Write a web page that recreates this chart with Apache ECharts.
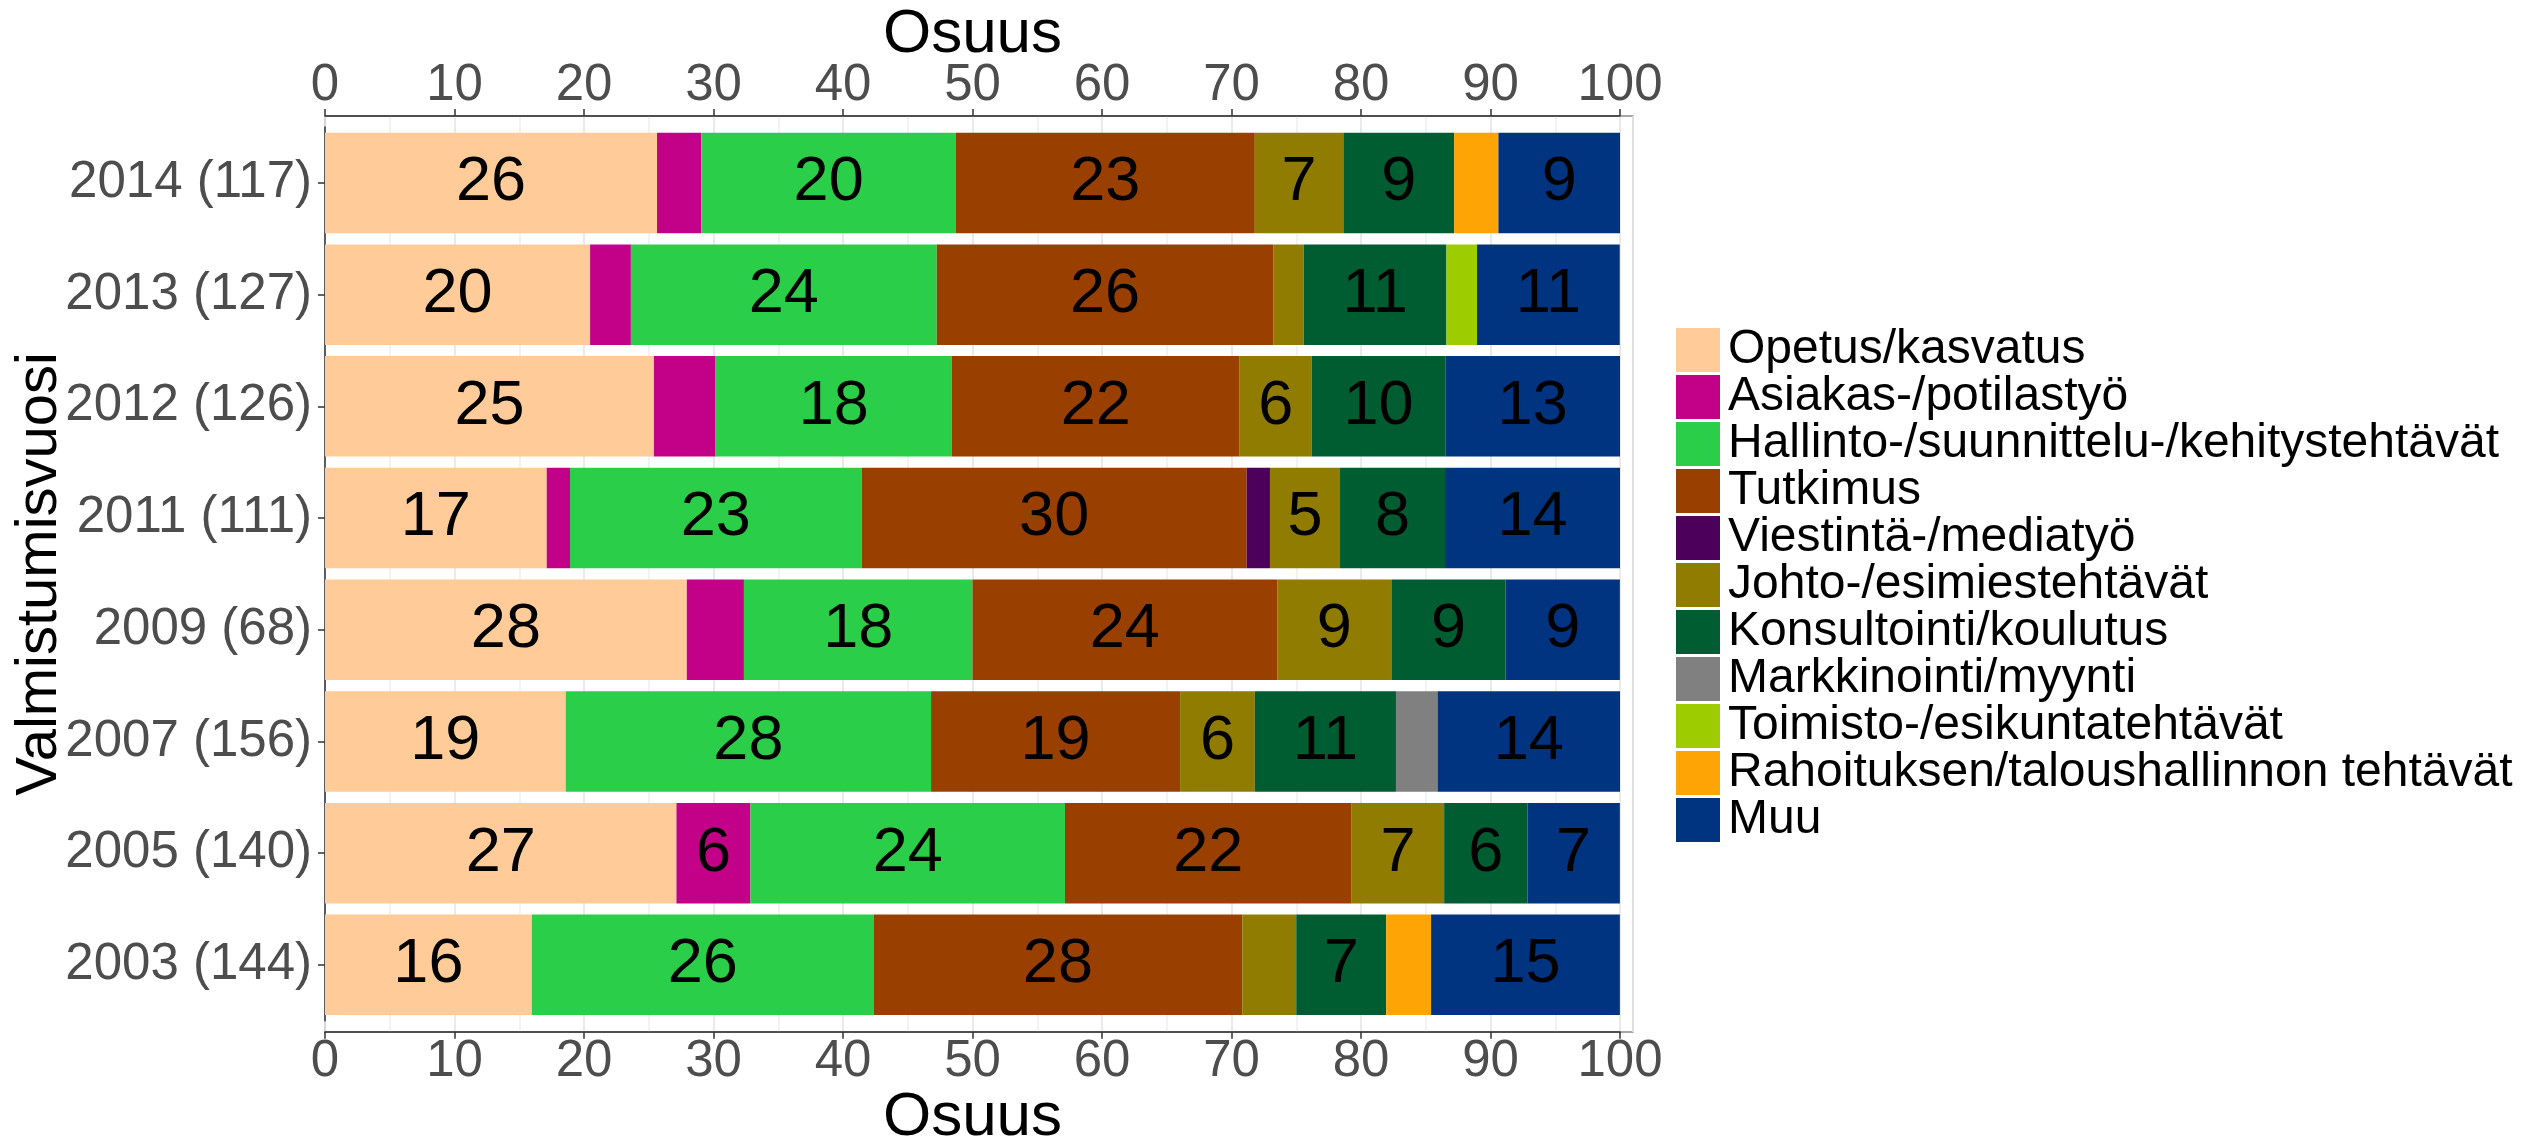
<!DOCTYPE html>
<html>
<head>
<meta charset="utf-8">
<script src="https://cdn.jsdelivr.net/npm/echarts@6/dist/echarts.min.js"></script>
<style>
html,body{margin:0;padding:0;background:#ffffff;}
#chart{width:2544px;height:1143px;}
</style>
</head>
<body>
<div id="chart"></div>
<script>
// ---- data (percent shares) ----
const years = ['2014 (117)', '2013 (127)', '2012 (126)', '2011 (111)', '2009 (68)', '2007 (156)', '2005 (140)', '2003 (144)'];
const categories = ['Opetus/kasvatus', 'Asiakas-/potilastyö', 'Hallinto-/suunnittelu-/kehitystehtävät', 'Tutkimus', 'Viestintä-/mediatyö', 'Johto-/esimiestehtävät', 'Konsultointi/koulutus', 'Markkinointi/myynti', 'Toimisto-/esikuntatehtävät', 'Rahoituksen/taloushallinnon tehtävät', 'Muu'];
const opetus       = [25.64, 20.47, 25.40, 17.12, 27.94, 18.59, 27.14, 15.97];
const asiakas      = [3.42, 3.15, 4.76, 1.80, 4.41, 0, 5.71, 0];
const hallinto     = [19.66, 23.62, 18.25, 22.52, 17.65, 28.21, 24.29, 26.39];
const tutkimus     = [23.08, 25.98, 22.22, 29.73, 23.53, 19.23, 22.14, 28.47];
const viestinta    = [0, 0, 0, 1.80, 0, 0, 0, 0];
const johto        = [6.84, 2.36, 5.56, 5.41, 8.82, 5.77, 7.14, 4.17];
const konsultointi = [8.55, 11.02, 10.32, 8.11, 8.82, 10.90, 6.43, 6.94];
const markkinointi = [0, 0, 0, 0, 0, 3.21, 0, 0];
const toimisto     = [0, 2.36, 0, 0, 0, 0, 0, 0];
const rahoitus     = [3.42, 0, 0, 0, 0, 0, 0, 3.47];
const muu          = [9.40, 11.02, 13.49, 13.51, 8.82, 14.10, 7.14, 14.58];
const xTickValues  = [0, 10, 20, 30, 40, 50, 60, 70, 80, 90, 100];
const labelThreshold = 5;

// ---- styling ----
const colors = ['#FFCC99', '#C20088', '#2BCE48', '#993F00', '#4C005C', '#8F7C00', '#005C31', '#808080', '#9DCC00', '#FFA405', '#003380'];
const FONT = "'Liberation Sans', Arial, Helvetica, sans-serif";
const seriesData = [opetus, asiakas, hallinto, tutkimus, viestinta, johto, konsultointi, markkinointi, toimisto, rahoitus, muu];

const xMin = xTickValues[0];
const xMax = xTickValues[xTickValues.length - 1];
const xInterval = xTickValues[1] - xTickValues[0];

function xAxisVisible(position, nameGap) {
  return {
    type: 'value', gridIndex: 0, position: position, offset: 11,
    min: xMin, max: xMax, interval: xInterval,
    axisLine: { show: true, lineStyle: { color: '#333333', width: 1.5 } },
    axisTick: { show: true, length: 7, lineStyle: { color: '#333333', width: 1.5 } },
    axisLabel: { fontSize: 51, color: '#4d4d4d', margin: 5, fontFamily: FONT },
    splitLine: { show: false },
    name: 'Osuus', nameLocation: 'middle', nameGap: nameGap, nameMoveOverlap: false,
    nameTextStyle: { fontSize: 62, color: '#000000', fontFamily: FONT }
  };
}

const option = {
  backgroundColor: '#ffffff',
  animation: false,
  textStyle: { fontFamily: FONT },
  grid: [
    { left: 325, top: 127.1, width: 1295, height: 893.6, containLabel: false, outerBoundsMode: 'none' },
    { left: 325, top: 116, width: 1308, height: 916, containLabel: false, outerBoundsMode: 'none',
      show: true, borderColor: '#8a8a8a', borderWidth: 1.3, backgroundColor: 'transparent' }
  ],
  legend: {
    data: categories, orient: 'vertical', left: 1671, top: 321,
    itemWidth: 44, itemHeight: 44, itemGap: -1, icon: 'rect', selectedMode: false,
    textStyle: { fontSize: 48, color: '#000000', fontFamily: FONT, padding: [0, 0, 0, 3] }
  },
  xAxis: [
    xAxisVisible('bottom', 55),
    xAxisVisible('top', 50),
    {
      type: 'value', gridIndex: 1, min: 0, max: 101, interval: 5,
      axisLine: { show: false }, axisTick: { show: false }, axisLabel: { show: false },
      splitLine: { show: true, lineStyle: { color: ['#e3e3e3', '#eeeeee'], width: 1.5 } }
    }
  ],
  yAxis: [
    {
      type: 'category', gridIndex: 0, data: years, inverse: true,
      axisLine: { show: true, lineStyle: { color: '#333333', width: 1.5 } },
      axisTick: { show: true, alignWithLabel: true, length: 7, lineStyle: { color: '#333333', width: 1.5 } },
      axisLabel: { fontSize: 51, color: '#4d4d4d', margin: 13, fontFamily: FONT },
      splitLine: { show: false },
      name: 'Valmistumisvuosi', nameLocation: 'middle', nameGap: 256, nameRotate: 90, nameMoveOverlap: false,
      nameTextStyle: { fontSize: 58, color: '#000000', fontFamily: FONT }
    },
    {
      type: 'value', gridIndex: 1, min: 0, max: 1,
      axisLine: { show: false }, axisTick: { show: false }, axisLabel: { show: false },
      splitLine: { show: false }
    }
  ],
  series: categories.map(function (name, i) {
    return {
      type: 'bar', name: name, stack: 'total', xAxisIndex: 0, yAxisIndex: 0,
      data: seriesData[i], barCategoryGap: '10%',
      itemStyle: { color: colors[i] },
      emphasis: { disabled: true },
      label: {
        show: true, position: 'inside', fontSize: 63, color: '#000000', fontFamily: FONT,
        formatter: function (p) { return p.value >= labelThreshold ? String(Math.round(p.value)) : ''; }
      }
    };
  })
};

const chart = echarts.init(document.getElementById('chart'), null, { renderer: 'canvas', width: 2544, height: 1143 });
chart.setOption(option);
</script>
</body>
</html>
